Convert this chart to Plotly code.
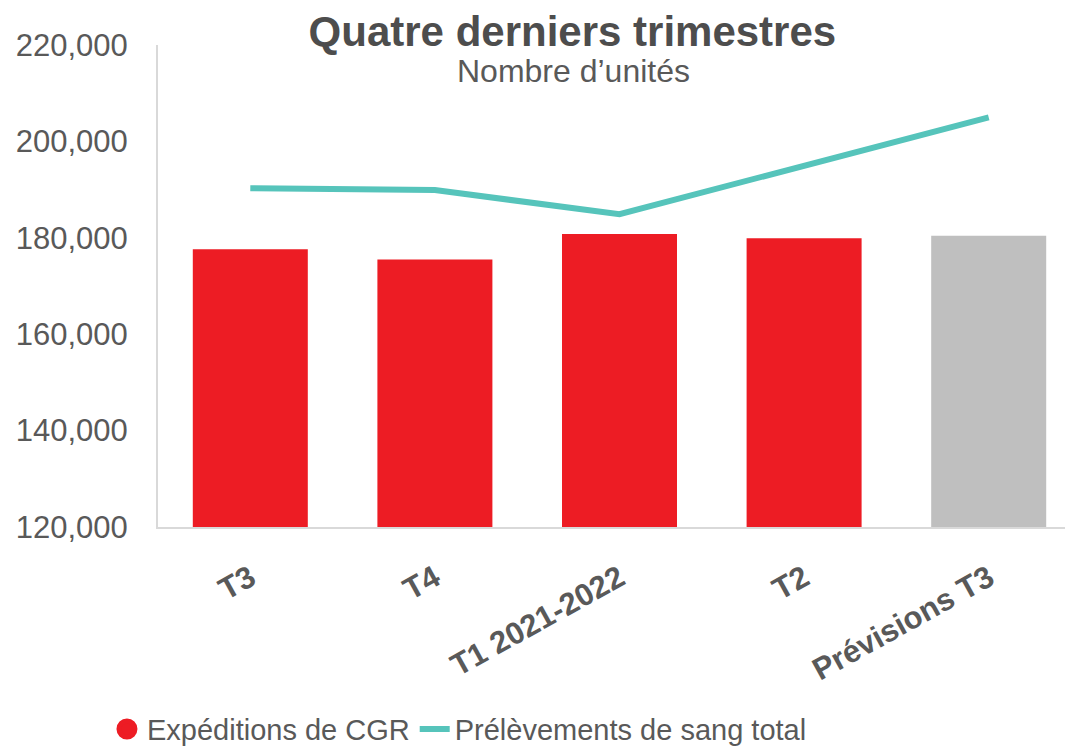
import plotly.graph_objects as go

# Données
trimestres = ['T3', 'T4', 'T1 2021-2022', 'T2', 'Prévisions T3']
expeditions_cgr = [177600, 175500, 180800, 179900, 180400]
prelevements_sang = [190300, 189900, 184900, 194900, 205000]
couleurs_barres = ['#ED1C24', '#ED1C24', '#ED1C24', '#ED1C24', '#BFBFBF']

rouge = '#ED1C24'
turquoise = '#56C4BB'
gris_texte = '#595959'
police = 'Arial, Liberation Sans, sans-serif'

fig = go.Figure()

fig.add_trace(go.Bar(
    x=trimestres, y=expeditions_cgr,
    marker=dict(color=couleurs_barres, line=dict(width=0)),
    name='Expéditions de CGR', showlegend=False,
))

# entrée de légende avec un rond rouge
fig.add_trace(go.Scatter(
    x=[None], y=[None], mode='markers', name='Expéditions de CGR',
    marker=dict(color=rouge, size=16, symbol='circle', line=dict(color=rouge, width=5)),
))

fig.add_trace(go.Scatter(
    x=trimestres, y=prelevements_sang, mode='lines',
    name='Prélèvements de sang total',
    line=dict(color=turquoise, width=6),
))

fig.update_layout(
    width=1073, height=747,
    margin=dict(l=150, r=0, t=37, b=228),
    plot_bgcolor='white', paper_bgcolor='white',
    font=dict(family=police, color=gris_texte),
    bargap=0.377,
    title=dict(
        text='<b>Quatre derniers trimestres</b>',
        x=0.526, xanchor='center', y=0.969, yanchor='middle',
        font=dict(size=42, color='#4D4D4D'),
    ),
    legend=dict(
        orientation='h', x=-0.0553, xanchor='left', y=-0.4194, yanchor='middle',
        font=dict(size=29, color=gris_texte), bgcolor='rgba(0,0,0,0)',
        itemwidth=30,
    ),
    annotations=[dict(
        text="Nombre d’unités", xref='paper', yref='paper',
        x=0.4507, y=0.946, xanchor='center', yanchor='middle',
        showarrow=False, font=dict(size=32, color=gris_texte),
    )],
)

fig.update_yaxes(
    range=[120000, 220000], dtick=20000, tickformat=',',
    showgrid=False, zeroline=False,
    showline=True, linecolor='#D9D9D9', linewidth=2,
    ticks='', ticklabelstandoff=22,
    tickfont=dict(size=31, color=gris_texte),
)
fig.update_xaxes(
    range=[-0.5, 4.5],
    showgrid=False, showline=True, linecolor='#D9D9D9', linewidth=2,
    ticks='', tickangle=-29, ticklabelstandoff=19,
    tickfont=dict(size=31, color=gris_texte, weight='bold'),
)

fig.write_html('out.html')
